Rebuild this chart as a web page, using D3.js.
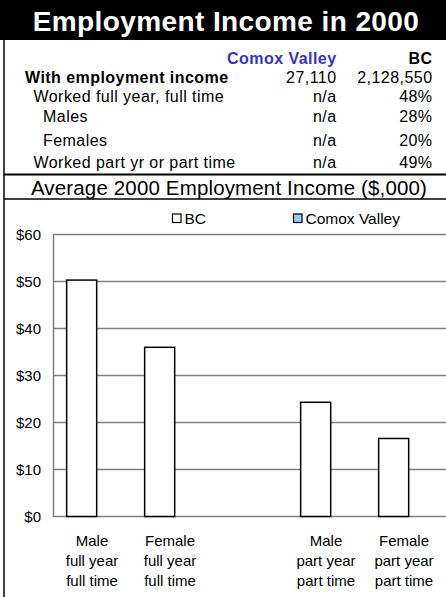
<!DOCTYPE html>
<html>
<head>
<meta charset="utf-8">
<script src="https://cdn.jsdelivr.net/npm/d3@7"></script>
<style>
  body { margin: 0; background: #fff; }
  svg { display: block; font-family: "Liberation Sans", Arial, sans-serif; }
</style>
</head>
<body>
<svg id="chart" width="446" height="597"></svg>
<script>
// table data
const rowLabels = ["With employment income", "Worked full year, full time", "Males", "Females", "Worked part yr or part time"]
const rowIndent = [0, 1, 2, 2, 1]
const comoxCol = ["27,110", "n/a", "n/a", "n/a", "n/a"]
const bcCol = ["2,128,550", "48%", "28%", "20%", "49%"]

// chart data ($,000)
const categories = ["Male|full year|full time", "Female|full year|full time", "", "Male|part year|part time", "Female|part year|part time"]
const seriesNames = ["BC", "Comox Valley"]
const bcValues = [50.3, 36.0, null, 24.3, 16.6]
const comoxValues = [null, null, null, null, null]
const yTicks = [0, 10, 20, 30, 40, 50, 60]

const svg = d3.select("#chart")
const W = 446

// title bar
svg.append("rect").attr("x", 0).attr("y", 0).attr("width", W).attr("height", 40).attr("fill", "#000")
svg.append("text")
    .attr("x", W / 2 + 3).attr("y", 30.5)
    .attr("text-anchor", "middle")
    .attr("fill", "#fff")
    .style("font-weight", "bold")
    .style("font-size", "28px")
    .style("letter-spacing", "0.4px")
    .text("Employment Income in 2000")

// left border all the way down
svg.append("line").attr("x1", 4).attr("x2", 4).attr("y1", 40).attr("y2", 597)
    .attr("stroke", "#000").attr("stroke-width", 1.5)

// table header
const colX = [336.5, 432.5]
const ls = "0.45px"
svg.append("text").attr("x", colX[0]).attr("y", 63.5).attr("text-anchor", "end")
    .attr("fill", "#3333cc").style("font-weight", "bold").style("font-size", "16px").style("letter-spacing", ls)
    .text("Comox Valley")
svg.append("text").attr("x", colX[1]).attr("y", 63.5).attr("text-anchor", "end")
    .attr("fill", "#000").style("font-weight", "bold").style("font-size", "16px").style("letter-spacing", ls)
    .text("BC")

const rowY = [83, 101.7, 122.3, 145.6, 167.7]
const rows = svg.append("g").style("font-size", "16px").style("letter-spacing", ls)
rowLabels.forEach((lab, i) => {
    rows.append("text").attr("x", 25 + rowIndent[i] * 8.5 + (rowIndent[i] == 2 ? 1 : 0)).attr("y", rowY[i])
        .style("font-weight", i == 0 ? "bold" : "normal")
        .text(lab)
    rows.append("text").attr("x", colX[0]).attr("y", rowY[i]).attr("text-anchor", "end").text(comoxCol[i])
    rows.append("text").attr("x", colX[1]).attr("y", rowY[i]).attr("text-anchor", "end").text(bcCol[i])
})

// separator lines + subtitle
svg.append("line").attr("x1", 4).attr("x2", W).attr("y1", 174.5).attr("y2", 174.5)
    .attr("stroke", "#000").attr("stroke-width", 2)
svg.append("text").attr("x", 229).attr("y", 195).attr("text-anchor", "middle")
    .style("font-size", "20.5px")
    .style("letter-spacing", "0.15px")
    .text("Average 2000 Employment Income ($,000)")
svg.append("line").attr("x1", 4).attr("x2", W).attr("y1", 199).attr("y2", 199)
    .attr("stroke", "#000").attr("stroke-width", 1.5)

// chart
const x0 = d3.scaleBand().domain(categories.map((c, i) => i)).range([53, 443]).padding(0)
const bw = x0.bandwidth()
const barW = bw * 0.385
const x1 = d3.scalePoint().domain(seriesNames).range([bw * 0.175, bw * 0.44])
const y = d3.scaleLinear().domain([0, 60]).range([516.5, 234.5])

// gridlines
svg.append("g").selectAll("line").data(yTicks).join("line")
    .attr("x1", 53).attr("x2", W)
    .attr("y1", d => y(d)).attr("y2", d => y(d))
    .attr("stroke", "#808080").attr("stroke-width", 1.5)

// y axis
const yAxis = svg.append("g").attr("transform", "translate(53,0)")
    .call(d3.axisLeft(y).tickValues(yTicks).tickSize(0).tickPadding(12).tickFormat(d => "$" + d))
yAxis.select(".domain").attr("stroke", "#808080").attr("stroke-width", 1.5)
yAxis.selectAll("text").style("font-size", "15px").attr("fill", "#000")
    .style("font-family", "Liberation Sans, Arial, sans-serif")

// bars
const series = [
    { name: "BC", values: bcValues, fill: "#fff" },
    { name: "Comox Valley", values: comoxValues, fill: "#99ccff" }
]
series.forEach(s => {
    svg.append("g").selectAll("rect")
        .data(s.values.map((v, i) => ({ v, i })).filter(d => d.v != null))
        .join("rect")
        .attr("x", d => x0(d.i) + x1(s.name))
        .attr("width", barW)
        .attr("y", d => y(d.v))
        .attr("height", d => y(0) - y(d.v))
        .attr("fill", s.fill)
        .attr("stroke", "#000").attr("stroke-width", 1.5)
})

// category labels
const catG = svg.append("g").style("font-size", "15px").attr("text-anchor", "middle")
categories.forEach((c, i) => {
    if (!c) return
    c.split("|").forEach((line, j) => {
        catG.append("text").attr("x", x0(i) + bw / 2).attr("y", 545.5 + j * 20).text(line)
    })
})

// legend
const legX = [172.5, 293.5]
series.forEach((s, i) => {
    svg.append("rect").attr("x", legX[i]).attr("y", 214).attr("width", 8.5).attr("height", 8.5)
        .attr("fill", s.fill).attr("stroke", "#000").attr("stroke-width", 1.2)
    svg.append("text").attr("x", legX[i] + 12).attr("y", 224).style("font-size", "15.5px").text(s.name)
})
</script>
</body>
</html>
